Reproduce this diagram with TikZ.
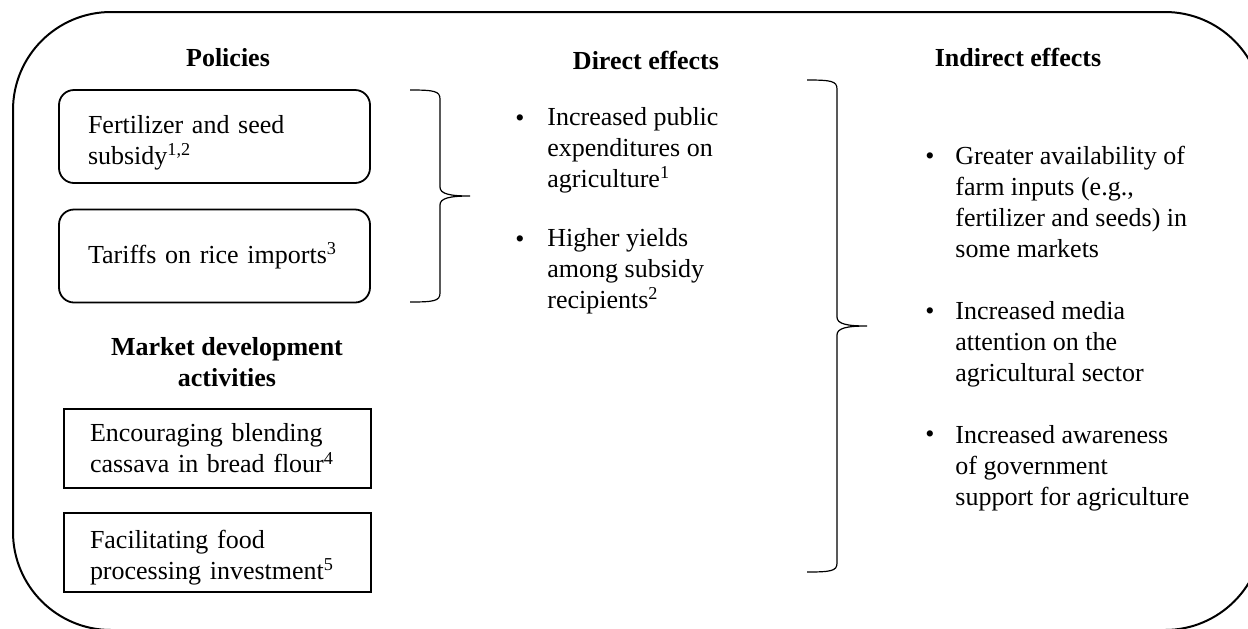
\documentclass[tikz,border=0pt]{standalone}
\usepackage{fontspec}
\setmainfont{Liberation Serif}
\def\groupbrace[#1](#2,#3:#4:#5){\draw[#1] (#2,#3) .. controls ({#2+24},#3) and ({#2+30},{#3+1}) .. ({#2+30},{#3+9}) -- ({#2+30},{#4-9}) .. controls ({#2+30},{#4-2}) and ({#2+40},#4) .. ({#2+60},#4) .. controls ({#2+40},#4) and ({#2+30},{#4+2}) .. ({#2+30},{#4+9}) -- ({#2+30},{#5-9}) .. controls ({#2+30},{#5-1}) and ({#2+24},#5) .. (#2,#5);}
\tikzset{
	txt/.style={font=\fontsize{13}{15.5}\selectfont, inner sep=0pt},
	heading/.style={txt, font=\fontsize{13}{15.5}\selectfont\bfseries, align=center},
	policybox/.style={txt, draw, line width=0.9pt, rounded corners=7.5pt, text width=126.5pt, inner xsep=14.5pt, minimum height=46.5pt, align=left},
	marketbox/.style={txt, draw, line width=0.9pt, text width=127.5pt, inner xsep=13pt, minimum height=39.5pt, align=left},
	lowered/.style={execute at begin node={\rule{0pt}{#1}}},
	effect/.style={txt, anchor=west, align=left},
	dot/.style={txt},
	bracestroke/.style={line width=0.6pt},
	framestroke/.style={line width=1pt}
}
\begin{document}
\begin{tikzpicture}[x=0.5pt, y=-0.5pt]
		%%%%% START %%%%%
		\useasboundingbox (0,0) rectangle (1248,628);
		\clip (0,0) rectangle (1248,628);
		
		\draw[framestroke, rounded corners=49pt] (13,12) rectangle (1263,630);
		
		% policies
		\node[heading] (policies) at (228,58) {Policies};
		\node[policybox, lowered=15pt] (subsidy) at (214.5,136.5) {Fertilizer and seed\\subsidy\textsuperscript{1,2}};
		\node[policybox] (tariffs) at (214.5,256) {Tariffs on rice imports\textsuperscript{3}};
		
		% market development
		\node[heading] (market) at (227,362) {Market development\\activities};
		\node[marketbox] (cassava) at (217.5,448.5) {Encouraging blending\\cassava in bread flour\textsuperscript{4}};
		\node[marketbox, lowered=14pt] (processing) at (217.5,552.5) {Facilitating food\\processing investment\textsuperscript{5}};
		
		\groupbrace[bracestroke](410,90:196:302)
		
		% direct effects
		\node[heading] (direct) at (646,60) {Direct effects};
		\node[dot] (ddot1) at (520,120.5) {\textbullet};
		\node[effect] (spending) at (547,150) {Increased public\\expenditures on\\agriculture\textsuperscript{1}};
		\node[dot] (ddot2) at (520,241.5) {\textbullet};
		\node[effect] (yields) at (547,271) {Higher yields\\among subsidy\\recipients\textsuperscript{2}};
		
		\groupbrace[bracestroke](807,80:326:572)
		
		% indirect effects
		\node[heading] (indirect) at (1018,57) {Indirect effects};
		\node[dot] (idot1) at (930,158.5) {\textbullet};
		\node[effect] (inputs) at (955,201.5) {Greater availability of\\farm inputs (e.g.,\\fertilizer and seeds) in\\some markets};
		\node[dot] (idot2) at (930,313.5) {\textbullet};
		\node[effect] (media) at (955,344) {Increased media\\attention on the\\agricultural sector};
		\node[dot] (idot3) at (930,436.5) {\textbullet};
		\node[effect] (awareness) at (955,468) {Increased awareness\\of government\\support for agriculture};
		
		%%%%% END %%%%%
\end{tikzpicture}
\end{document}
